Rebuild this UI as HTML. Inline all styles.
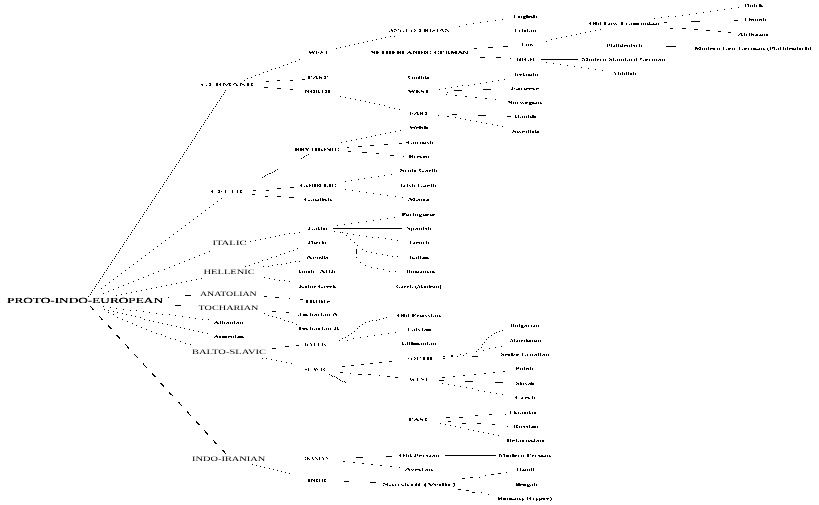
<!DOCTYPE html>
<html><head><meta charset="utf-8"><title>Indo-European Language Tree</title>
<style>
html,body{margin:0;padding:0;background:#fff;width:819px;height:505px;overflow:hidden}
svg{display:block;filter:grayscale(1)}
text{font-family:"Liberation Serif",serif;text-rendering:geometricPrecision}
</style></head><body>
<svg width="819" height="505" viewBox="0 0 819 505">
<defs><filter id="bbig" filterUnits="userSpaceOnUse" x="0" y="0" width="819" height="505" color-interpolation-filters="sRGB"><feComponentTransfer><feFuncA type="table" tableValues="0 0.5 1 1"/></feComponentTransfer></filter><filter id="bmid" filterUnits="userSpaceOnUse" x="0" y="0" width="819" height="505" color-interpolation-filters="sRGB"><feComponentTransfer><feFuncA type="table" tableValues="0 0.25 0.75 1"/></feComponentTransfer></filter><filter id="bscl" filterUnits="userSpaceOnUse" x="0" y="0" width="819" height="505" color-interpolation-filters="sRGB"><feComponentTransfer><feFuncA type="discrete" tableValues="0 0 0 0 0 0 0 0 0 0 0 1 1 1 1 1 1 1 1 1"/></feComponentTransfer></filter><filter id="bscd" filterUnits="userSpaceOnUse" x="0" y="0" width="819" height="505" color-interpolation-filters="sRGB"><feComponentTransfer><feFuncA type="discrete" tableValues="0 0 1 1 1"/></feComponentTransfer></filter><filter id="blang" filterUnits="userSpaceOnUse" x="0" y="0" width="819" height="505" color-interpolation-filters="sRGB"><feComponentTransfer><feFuncA type="discrete" tableValues="0 0 0 0 0 0 0 0 0 1 1 1 1 1 1 1 1 1 1 1"/></feComponentTransfer></filter></defs>
<rect width="819" height="505" fill="#fff"/>
<g shape-rendering="crispEdges">
<path d="M738 7h1v1H738zM731 8h1v1H731zM724 9h1v1H724zM717 10h1v1H717zM710 11h1v1H710zM703 12h1v1H703zM696 13h1v1H696zM689 14h1v1H689zM682 15h1v1H682zM668 16h1v1H668zM675 16h1v1H675zM661 17h1v1H661zM654 18h1v1H654zM502 19h1v1H502zM495 20h1v1H495zM734 20h4v1H734zM487 21h1v1H487zM691 21h9v1H691zM480 22h1v1H480zM664 22h3v1H664zM473 23h1v1H473zM466 24h1v1H466zM459 26h1v1H459zM670 28h3v1H670zM682 28h4v1H682zM600 29h1v1H600zM694 29h4v1H694zM595 30h1v1H595zM706 30h4v1H706zM590 31h1v1H590zM718 31h3v1H718zM585 32h1v1H585zM728 32h3v1H728zM580 33h1v1H580zM576 34h1v1H576zM571 35h1v1H571zM390 36h1v1H390zM394 36h1v1H394zM566 36h1v1H566zM385 37h1v1H385zM561 37h1v1H561zM381 38h1v1H381zM556 38h1v1H556zM376 39h1v1H376zM551 39h1v1H551zM372 40h1v1H372zM367 41h1v1H367zM546 41h1v1H546zM363 42h1v1H363zM358 43h1v1H358zM354 44h1v1H354zM349 45h1v1H349zM345 46h1v1H345zM503 46h5v1H503zM666 46h10v1H666zM340 47h1v1H340zM488 47h5v1H488zM336 48h1v1H336zM474 48h3v1H474zM480 57h5v1H480zM496 57h5v1H496zM510 58h1v1H510zM299 59h1v1H299zM541 59h37v1H541zM295 61h1v1H295zM291 62h1v1H291zM546 62h1v1H546zM553 63h1v1H553zM287 64h1v1H287zM560 64h1v1H560zM283 65h1v1H283zM567 65h1v1H567zM574 66h1v1H574zM279 67h1v1H279zM581 67h1v1H581zM275 68h1v1H275zM588 68h1v1H588zM271 69h1v1H271zM595 69h1v1H595zM602 70h1v1H602zM267 71h1v1H267zM263 72h1v1H263zM259 74h1v1H259zM255 75h1v1H255zM251 77h1v1H251zM247 78h1v1H247zM302 79h3v1H302zM504 79h1v1H504zM244 80h1v1H244zM277 80h3v1H277zM290 80h3v1H290zM498 80h1v1H498zM266 81h3v1H266zM492 81h1v1H492zM486 82h1v1H486zM480 83h1v1H480zM474 84h1v1H474zM462 85h1v1H462zM468 85h1v1H468zM457 86h1v1H457zM264 87h4v1H264zM451 87h1v1H451zM277 88h4v1H277zM445 88h1v1H445zM290 89h3v1H290zM439 89h1v1H439zM483 89h8v1H483zM225 90h1v1H225zM454 90h8v1H454zM224 92h1v1H224zM447 92h1v1H447zM223 94h1v1H223zM446 94h1v1H446zM455 95h2v1H455zM221 96h1v1H221zM340 96h1v1H340zM465 96h2v1H465zM345 97h1v1H345zM475 97h2v1H475zM220 98h1v1H220zM350 98h1v1H350zM485 98h2v1H485zM355 99h1v1H355zM495 99h1v1H495zM219 100h1v1H219zM360 100h1v1H360zM365 101h1v1H365zM217 102h1v1H217zM369 102h1v1H369zM374 103h1v1H374zM216 104h1v1H216zM379 104h1v1H379zM384 105h1v1H384zM215 106h1v1H215zM389 107h1v1H389zM213 108h1v1H213zM394 108h1v1H394zM399 109h1v1H399zM212 110h1v1H212zM211 112h1v1H211zM209 114h1v1H209zM452 114h5v1H452zM438 115h1v1H438zM478 115h8v1H478zM208 116h1v1H208zM447 116h2v1H447zM507 116h4v1H507zM455 117h1v1H455zM207 118h1v1H207zM460 118h1v1H460zM465 119h1v1H465zM205 120h1v1H205zM470 120h1v1H470zM476 121h1v1H476zM204 122h1v1H204zM481 122h1v1H481zM486 123h1v1H486zM203 124h1v1H203zM492 124h1v1H492zM497 125h1v1H497zM201 126h1v1H201zM502 126h1v1H502zM200 128h1v1H200zM199 130h1v1H199zM400 130h1v1H400zM395 131h1v1H395zM197 132h1v1H197zM390 132h1v1H390zM385 133h1v1H385zM196 134h1v1H196zM380 134h1v1H380zM375 135h1v1H375zM195 136h1v1H195zM371 136h1v1H371zM366 137h1v1H366zM194 138h1v1H194zM361 138h1v1H361zM356 139h1v1H356zM192 140h1v1H192zM351 140h1v1H351zM346 141h1v1H346zM191 142h1v1H191zM341 142h1v1H341zM406 142h1v1H406zM399 143h3v1H399zM190 144h1v1H190zM384 144h4v1H384zM370 145h4v1H370zM188 146h1v1H188zM358 146h4v1H358zM347 147h2v1H347zM187 148h1v1H187zM186 150h1v1H186zM348 151h3v1H348zM184 152h1v1H184zM362 152h5v1H362zM376 153h3v1H376zM183 154h1v1H183zM308 154h1v1H308zM306 155h1v1H306zM390 155h4v1H390zM182 156h1v1H182zM304 156h1v1H304zM403 156h1v1H403zM303 157h1v1H303zM180 158h1v1H180zM301 158h1v1H301zM179 160h1v1H179zM178 162h1v1H178zM176 164h1v1H176zM175 166h1v1H175zM174 168h1v1H174zM277 169h1v1H277zM172 170h1v1H172zM275 170h1v1H275zM274 171h1v1H274zM171 172h1v1H171zM272 172h1v1H272zM269 173h2v1H269zM170 174h1v1H170zM267 174h1v1H267zM391 174h1v1H391zM265 175h1v1H265zM384 175h1v1H384zM168 176h1v1H168zM264 176h1v1H264zM378 176h1v1H378zM262 177h1v1H262zM371 177h1v1H371zM167 178h1v1H167zM364 178h1v1H364zM358 179h1v1H358zM166 180h1v1H166zM351 180h1v1H351zM345 181h1v1H345zM164 182h1v1H164zM163 184h1v1H163zM162 186h1v1H162zM290 187h4v1H290zM160 188h1v1H160zM277 188h4v1H277zM345 189h1v1H345zM159 190h1v1H159zM253 190h3v1H253zM266 190h3v1H266zM352 190h1v1H352zM359 191h1v1H359zM158 192h1v1H158zM366 192h1v1H366zM373 193h1v1H373zM156 194h1v1H156zM252 194h3v1H252zM380 194h1v1H380zM387 195h1v1H387zM155 196h1v1H155zM265 196h3v1H265zM277 196h4v1H277zM395 196h1v1H395zM289 197h5v1H289zM402 197h1v1H402zM154 198h1v1H154zM221 198h1v1H221zM152 200h1v1H152zM217 201h1v1H217zM151 202h1v1H151zM150 204h1v1H150zM213 204h1v1H213zM148 206h1v1H148zM209 207h1v1H209zM147 208h1v1H147zM146 210h1v1H146zM205 210h1v1H205zM144 212h1v1H144zM201 213h1v1H201zM143 214h1v1H143zM142 216h1v1H142zM197 216h1v1H197zM394 217h1v1H394zM140 218h1v1H140zM387 218h1v1H387zM193 219h1v1H193zM380 219h1v1H380zM139 220h1v1H139zM373 220h1v1H373zM366 221h1v1H366zM138 222h1v1H138zM189 222h1v1H189zM358 222h1v1H358zM351 223h1v1H351zM136 224h1v1H136zM344 224h1v1H344zM185 225h1v1H185zM337 225h1v1H337zM135 226h1v1H135zM134 228h1v1H134zM181 228h1v1H181zM333 228h69v1H333zM132 230h1v1H132zM177 231h1v1H177zM334 231h1v1H334zM131 232h1v1H131zM299 232h1v1H299zM340 232h1v1H340zM342 232h1v1H342zM289 233h1v1H289zM294 233h1v1H294zM347 233h1v1H347zM130 234h1v1H130zM173 234h1v1H173zM284 234h1v1H284zM353 234h1v1H353zM279 235h1v1H279zM346 235h1v1H346zM359 235h1v1H359zM128 236h1v1H128zM275 236h1v1H275zM366 236h1v1H366zM169 237h1v1H169zM270 237h1v1H270zM372 237h1v1H372zM378 237h1v1H378zM127 238h1v1H127zM265 238h1v1H265zM385 238h1v1H385zM260 239h1v1H260zM350 239h1v1H350zM391 239h1v1H391zM126 240h1v1H126zM165 240h1v1H165zM255 240h1v1H255zM397 240h1v1H397zM245 241h1v1H245zM250 241h1v1H250zM124 242h1v1H124zM354 242h1v1H354zM161 243h1v1H161zM123 244h1v1H123zM357 245h1v1H357zM122 246h1v1H122zM157 246h1v1H157zM120 248h1v1H120zM297 248h1v1H297zM153 249h1v1H153zM356 249h1v1H356zM362 249h1v1H362zM119 250h1v1H119zM293 250h1v1H293zM356 250h1v1H356zM209 251h1v1H209zM289 251h1v1H289zM356 251h1v1H356zM366 251h1v1H366zM118 252h1v1H118zM149 252h1v1H149zM356 252h1v1H356zM371 252h1v1H371zM204 253h1v1H204zM284 253h1v1H284zM356 253h1v1H356zM376 253h1v1H376zM116 254h1v1H116zM280 254h1v1H280zM382 254h1v1H382zM145 255h1v1H145zM199 255h1v1H199zM387 255h1v1H387zM115 256h1v1H115zM276 256h1v1H276zM392 256h1v1H392zM397 256h1v1H397zM194 257h1v1H194zM271 257h1v1H271zM356 257h1v1H356zM114 258h1v1H114zM141 258h1v1H141zM189 259h1v1H189zM267 259h1v1H267zM112 260h1v1H112zM262 260h1v1H262zM137 261h1v1H137zM184 261h1v1H184zM295 261h1v1H295zM299 261h1v1H299zM111 262h1v1H111zM258 262h1v1H258zM290 262h1v1H290zM360 262h1v1H360zM179 263h1v1H179zM254 263h1v1H254zM286 263h1v1H286zM110 264h1v1H110zM133 264h1v1H133zM277 264h1v1H277zM281 264h1v1H281zM174 265h1v1H174zM249 265h1v1H249zM272 265h1v1H272zM365 265h1v1H365zM108 266h1v1H108zM245 266h1v1H245zM263 266h1v1H263zM268 266h1v1H268zM129 267h1v1H129zM169 267h1v1H169zM371 267h1v1H371zM107 268h1v1H107zM377 268h1v1H377zM164 269h1v1H164zM383 269h1v1H383zM106 270h1v1H106zM125 270h1v1H125zM158 271h1v1H158zM389 271h1v1H389zM395 271h1v1H395zM104 272h1v1H104zM121 273h1v1H121zM153 273h1v1H153zM103 274h1v1H103zM148 275h1v1H148zM102 276h1v1H102zM117 276h1v1H117zM143 277h1v1H143zM264 277h1v1H264zM100 278h1v1H100zM201 278h1v1H201zM269 278h1v1H269zM113 279h1v1H113zM138 279h1v1H138zM196 279h1v1H196zM274 279h1v1H274zM99 280h1v1H99zM191 280h1v1H191zM279 280h1v1H279zM284 280h1v1H284zM133 281h1v1H133zM186 281h1v1H186zM289 281h1v1H289zM98 282h1v1H98zM109 282h1v1H109zM181 282h1v1H181zM128 283h1v1H128zM176 283h1v1H176zM96 284h1v1H96zM171 284h1v1H171zM105 285h1v1H105zM123 285h1v1H123zM166 285h1v1H166zM95 286h1v1H95zM161 286h1v1H161zM118 287h1v1H118zM156 287h1v1H156zM94 288h1v1H94zM101 288h1v1H101zM151 288h1v1H151zM113 289h1v1H113zM146 289h1v1H146zM92 290h1v1H92zM141 290h1v1H141zM108 291h1v1H108zM136 291h1v1H136zM91 292h1v1H91zM131 292h1v1H131zM103 293h1v1H103zM126 293h1v1H126zM90 294h1v1H90zM121 294h1v1H121zM116 295h1v1H116zM185 295h6v1H185zM88 296h1v1H88zM264 296h3v1H264zM168 297h1v1H168zM275 297h4v1H275zM289 298h1v1H289zM300 299h3v1H300zM175 305h6v1H175zM90 306h1v1H90zM103 306h1v1H103zM91 307h1v1H91zM110 307h1v1H110zM92 308h1v1H92zM116 308h1v1H116zM92 309h2v1H92zM104 309h1v1H104zM123 309h1v1H123zM108 310h1v1H108zM130 310h1v1H130zM136 310h1v1H136zM113 311h1v1H113zM143 311h1v1H143zM272 311h4v1H272zM108 312h1v1H108zM117 312h1v1H117zM149 312h1v1H149zM286 312h3v1H286zM122 313h1v1H122zM156 313h1v1H156zM264 313h1v1H264zM113 314h1v1H113zM126 314h1v1H126zM162 314h1v1H162zM169 314h1v1H169zM131 315h1v1H131zM175 315h1v1H175zM268 315h1v1H268zM298 315h1v1H298zM99 316h1v1H99zM135 316h1v1H135zM182 316h1v1H182zM272 316h1v1H272zM100 317h1v1H100zM117 317h1v1H117zM140 317h1v1H140zM189 317h1v1H189zM276 317h1v1H276zM386 317h1v1H386zM101 318h1v1H101zM195 318h1v1H195zM280 318h1v1H280zM383 318h1v1H383zM101 319h2v1H101zM122 319h1v1H122zM144 319h1v1H144zM202 319h1v1H202zM208 319h1v1H208zM379 319h1v1H379zM149 320h1v1H149zM284 320h1v1H284zM372 320h1v1H372zM376 320h1v1H376zM127 321h1v1H127zM153 321h1v1H153zM288 321h1v1H288zM369 321h1v1H369zM158 322h1v1H158zM292 322h1v1H292zM365 322h1v1H365zM132 323h1v1H132zM162 323h1v1H162zM167 324h1v1H167zM296 324h1v1H296zM362 324h1v1H362zM108 325h1v1H108zM136 325h1v1H136zM171 325h1v1H171zM108 326h2v1H108zM176 326h1v1H176zM359 326h1v1H359zM109 327h2v1H109zM141 327h1v1H141zM180 327h1v1H180zM110 328h2v1H110zM184 328h1v1H184zM357 328h1v1H357zM146 329h1v1H146zM189 329h1v1H189zM193 330h1v1H193zM502 330h1v1H502zM151 331h1v1H151zM198 331h1v1H198zM354 331h1v1H354zM499 331h1v1H499zM202 332h1v1H202zM395 332h1v1H395zM496 332h1v1H496zM156 333h1v1H156zM207 333h1v1H207zM351 333h1v1H351zM388 333h1v1H388zM494 333h1v1H494zM161 334h1v1H161zM381 334h1v1H381zM116 335h2v1H116zM348 335h1v1H348zM374 335h1v1H374zM491 335h1v1H491zM117 336h2v1H117zM165 336h1v1H165zM367 336h1v1H367zM118 337h2v1H118zM345 337h1v1H345zM360 337h1v1H360zM488 337h1v1H488zM119 338h1v1H119zM170 338h1v1H170zM342 338h1v1H342zM353 338h1v1H353zM175 339h1v1H175zM486 339h1v1H486zM339 340h1v1H339zM347 340h1v1H347zM180 341h1v1H180zM484 342h1v1H484zM185 343h1v1H185zM125 344h1v1H125zM190 344h1v1H190zM482 344h1v1H482zM126 345h1v1H126zM296 345h3v1H296zM127 346h1v1H127zM285 346h4v1H285zM501 346h1v1H501zM127 347h2v1H127zM481 347h1v1H481zM495 347h1v1H495zM128 348h1v1H128zM272 348h4v1H272zM489 348h1v1H489zM478 349h1v1H478zM483 350h1v1H483zM476 351h1v1H476zM466 353h1v1H466zM134 354h1v1H134zM460 354h1v1H460zM135 355h1v1H135zM451 355h2v1H451zM463 355h1v1H463zM136 356h1v1H136zM443 356h2v1H443zM451 356h2v1H451zM457 356h1v1H457zM472 356h6v1H472zM137 357h1v1H137zM262 358h1v1H262zM266 358h1v1H266zM443 358h2v1H443zM271 359h1v1H271zM276 360h1v1H276zM281 361h1v1H281zM389 361h3v1H389zM286 362h1v1H286zM379 362h3v1H379zM143 363h1v1H143zM291 363h1v1H291zM370 363h3v1H370zM143 364h1v1H143zM361 364h3v1H361zM144 365h1v1H144zM351 365h3v1H351zM145 366h1v1H145zM342 366h3v1H342zM146 367h1v1H146zM503 371h2v1H503zM340 372h3v1H340zM493 372h2v1H493zM152 373h1v1H152zM350 373h1v1H350zM484 373h2v1H484zM152 374h2v1H152zM329 374h1v1H329zM358 374h4v1H358zM368 374h3v1H368zM474 374h2v1H474zM153 375h2v1H153zM331 375h1v1H331zM379 375h1v1H379zM463 375h2v1H463zM154 376h2v1H154zM332 376h1v1H332zM334 376h1v1H334zM387 376h3v1H387zM453 376h2v1H453zM336 377h1v1H336zM395 377h3v1H395zM442 377h3v1H442zM337 378h1v1H337zM339 379h1v1H339zM340 380h1v1H340zM439 380h5v1H439zM342 381h1v1H342zM344 381h1v1H344zM465 381h8v1H465zM345 382h1v1H345zM495 382h8v1H495zM160 383h2v1H160zM442 383h1v1H442zM161 384h2v1H161zM448 384h1v1H448zM162 385h2v1H162zM454 385h1v1H454zM163 386h1v1H163zM460 386h1v1H460zM466 387h1v1H466zM472 388h1v1H472zM478 390h1v1H478zM484 391h1v1H484zM169 392h1v1H169zM490 392h1v1H490zM169 393h2v1H169zM496 393h1v1H496zM170 394h2v1H170zM502 394h1v1H502zM172 395h1v1H172zM178 402h2v1H178zM179 403h1v1H179zM180 404h1v1H180zM181 405h1v1H181zM187 411h1v1H187zM187 412h2v1H187zM188 413h1v1H188zM189 414h1v1H189zM489 414h3v1H489zM505 414h1v1H505zM190 415h1v1H190zM475 415h3v1H475zM446 417h4v1H446zM459 417h4v1H459zM196 421h1v1H196zM448 421h3v1H448zM196 422h2v1H196zM197 423h2v1H197zM440 423h1v1H440zM462 423h4v1H462zM477 423h4v1H477zM198 424h2v1H198zM445 424h1v1H445zM492 424h3v1H492zM450 425h1v1H450zM455 426h1v1H455zM507 426h1v1H507zM460 427h1v1H460zM468 429h1v1H468zM204 430h1v1H204zM473 430h1v1H473zM205 431h1v1H205zM478 431h1v1H478zM205 432h2v1H205zM483 432h1v1H483zM206 433h2v1H206zM488 433h1v1H488zM207 434h1v1H207zM493 434h1v1H493zM498 435h1v1H498zM213 440h1v1H213zM214 441h1v1H214zM214 442h2v1H214zM215 443h2v1H215zM222 450h2v1H222zM223 451h2v1H223zM224 452h1v1H224zM225 453h1v1H225zM445 455h51v1H445zM386 456h6v1H386zM356 457h7v1H356zM343 461h2v1H343zM353 462h2v1H353zM362 463h2v1H362zM252 464h1v1H252zM371 464h2v1H371zM256 465h1v1H256zM380 465h2v1H380zM260 466h1v1H260zM390 466h2v1H390zM264 467h1v1H264zM399 467h1v1H399zM269 468h1v1H269zM273 469h1v1H273zM277 470h1v1H277zM281 471h1v1H281zM285 472h1v1H285zM506 472h1v1H506zM289 473h1v1H289zM498 473h3v1H498zM491 474h3v1H491zM485 475h1v1H485zM470 477h3v1H470zM479 477h1v1H479zM462 478h3v1H462zM344 481h5v1H344zM370 482h6v1H370zM458 489h3v1H458zM466 490h3v1H466zM472 492h3v1H472zM481 492h1v1H481zM488 494h1v1H488z" fill="#000"/>
</g>
<g filter="url(#bbig)">
<text x="7.0" y="303.1" font-size="7.8" textLength="156.0" lengthAdjust="spacingAndGlyphs" fill="#000" font-weight="normal">PROTO-INDO-EUROPEAN</text>
</g>
<g filter="url(#bmid)">
<text x="212.4" y="245.2" font-size="6.8" textLength="34.2" lengthAdjust="spacingAndGlyphs" fill="#000" font-weight="normal">ITALIC</text>
<text x="203.5" y="274.2" font-size="6.8" textLength="51.3" lengthAdjust="spacingAndGlyphs" fill="#000" font-weight="normal">HELLENIC</text>
<text x="200.0" y="295.9" font-size="6.8" textLength="56.7" lengthAdjust="spacingAndGlyphs" fill="#000" font-weight="normal">ANATOLIAN</text>
<text x="198.5" y="310.2" font-size="6.8" textLength="60.0" lengthAdjust="spacingAndGlyphs" fill="#000" font-weight="normal">TOCHARIAN</text>
<text x="192.0" y="353.6" font-size="6.8" textLength="74.0" lengthAdjust="spacingAndGlyphs" fill="#000" font-weight="normal">BALTO-SLAVIC</text>
<text x="192.0" y="460.9" font-size="6.8" textLength="73.3" lengthAdjust="spacingAndGlyphs" fill="#000" font-weight="normal">INDO-IRANIAN</text>
</g>
<g filter="url(#bscl)">
<text x="200.7" y="85.9" font-size="4.6" textLength="56.7" lengthAdjust="spacingAndGlyphs" fill="#000" font-weight="bold">GERMANIC</text>
<text x="388.4" y="32.0" font-size="4.6" textLength="61.6" lengthAdjust="spacingAndGlyphs" fill="#000" font-weight="bold">ANGLO-FRISIAN</text>
<text x="210.7" y="193.3" font-size="4.6" textLength="35.3" lengthAdjust="spacingAndGlyphs" fill="#000" font-weight="bold">CELTIC</text>
<text x="304.0" y="345.8" font-size="4.6" textLength="24.4" lengthAdjust="spacingAndGlyphs" fill="#000" font-weight="bold">BALTIC</text>
<text x="304.0" y="370.5" font-size="4.6" textLength="23.7" lengthAdjust="spacingAndGlyphs" fill="#000" font-weight="bold">SLAVIC</text>
<text x="406.0" y="359.5" font-size="4.6" textLength="26.5" lengthAdjust="spacingAndGlyphs" fill="#000" font-weight="bold">SOUTH</text>
<text x="409.0" y="381.1" font-size="4.6" textLength="20.0" lengthAdjust="spacingAndGlyphs" fill="#000" font-weight="bold">WEST</text>
<text x="304.0" y="460.2" font-size="4.6" textLength="25.0" lengthAdjust="spacingAndGlyphs" fill="#000" font-weight="bold">IRANIAN</text>
</g>
<g filter="url(#bscd)">
<text x="308.2" y="53.5" font-size="4.6" textLength="20.5" lengthAdjust="spacingAndGlyphs" fill="#000" font-weight="bold">WEST</text>
<text x="307.5" y="78.9" font-size="4.6" textLength="20.5" lengthAdjust="spacingAndGlyphs" fill="#000" font-weight="bold">EAST</text>
<text x="304.8" y="93.0" font-size="4.6" textLength="25.6" lengthAdjust="spacingAndGlyphs" fill="#000" font-weight="bold">NORTH</text>
<text x="370.1" y="53.5" font-size="4.6" textLength="98.2" lengthAdjust="spacingAndGlyphs" fill="#000" font-weight="bold">NETHERLANDIC-GERMAN</text>
<text x="408.0" y="92.5" font-size="4.6" textLength="21.4" lengthAdjust="spacingAndGlyphs" fill="#000" font-weight="bold">WEST</text>
<text x="409.0" y="115.0" font-size="4.6" textLength="20.0" lengthAdjust="spacingAndGlyphs" fill="#000" font-weight="bold">EAST</text>
<text x="294.8" y="151.2" font-size="4.6" textLength="44.6" lengthAdjust="spacingAndGlyphs" fill="#000" font-weight="bold">BRYTHONIC</text>
<text x="300.0" y="186.5" font-size="4.6" textLength="36.3" lengthAdjust="spacingAndGlyphs" fill="#000" font-weight="bold">GOIDELIC</text>
<text x="408.8" y="420.6" font-size="4.6" textLength="19.5" lengthAdjust="spacingAndGlyphs" fill="#000" font-weight="bold">EAST</text>
<text x="307.5" y="481.7" font-size="4.6" textLength="21.5" lengthAdjust="spacingAndGlyphs" fill="#000" font-weight="bold">INDIC</text>
</g>
<g filter="url(#blang)">
<text x="513.0" y="18.0" font-size="4.8" textLength="24.1" lengthAdjust="spacingAndGlyphs" fill="#000" font-weight="bold">English</text>
<text x="514.0" y="32.1" font-size="4.8" textLength="22.5" lengthAdjust="spacingAndGlyphs" fill="#000" font-weight="bold">Frisian</text>
<text x="521.6" y="46.4" font-size="4.8" textLength="12.4" lengthAdjust="spacingAndGlyphs" fill="#000" font-weight="bold">Low</text>
<text x="515.9" y="61.0" font-size="4.8" textLength="19.1" lengthAdjust="spacingAndGlyphs" fill="#000" font-weight="bold">HIGH</text>
<text x="589.0" y="25.3" font-size="4.8" textLength="70.3" lengthAdjust="spacingAndGlyphs" fill="#000" font-weight="bold">Old Low Franconian</text>
<text x="606.2" y="46.8" font-size="4.8" textLength="36.1" lengthAdjust="spacingAndGlyphs" fill="#000" font-weight="bold">Plattdeutsch</text>
<text x="581.8" y="60.8" font-size="4.8" textLength="83.4" lengthAdjust="spacingAndGlyphs" fill="#000" font-weight="bold">Modern Standard German</text>
<text x="613.0" y="75.1" font-size="4.8" textLength="23.4" lengthAdjust="spacingAndGlyphs" fill="#000" font-weight="bold">Yiddish</text>
<text x="744.5" y="7.0" font-size="4.8" textLength="18.3" lengthAdjust="spacingAndGlyphs" fill="#000" font-weight="bold">Dutch</text>
<text x="744.5" y="20.8" font-size="4.8" textLength="21.5" lengthAdjust="spacingAndGlyphs" fill="#000" font-weight="bold">Flemish</text>
<text x="738.0" y="35.9" font-size="4.8" textLength="30.5" lengthAdjust="spacingAndGlyphs" fill="#000" font-weight="bold">Afrikaans</text>
<text x="694.6" y="49.6" font-size="4.8" textLength="117.0" lengthAdjust="spacingAndGlyphs" fill="#000" font-weight="bold">Modern Low German (Plattdeutsch)</text>
<text x="407.6" y="78.6" font-size="4.8" textLength="22.9" lengthAdjust="spacingAndGlyphs" fill="#000" font-weight="bold">Gothic</text>
<text x="514.0" y="75.6" font-size="4.8" textLength="25.0" lengthAdjust="spacingAndGlyphs" fill="#000" font-weight="bold">Icelandic</text>
<text x="510.7" y="90.2" font-size="4.8" textLength="28.3" lengthAdjust="spacingAndGlyphs" fill="#000" font-weight="bold">Faroese</text>
<text x="507.0" y="104.1" font-size="4.8" textLength="35.0" lengthAdjust="spacingAndGlyphs" fill="#000" font-weight="bold">Norwegian</text>
<text x="514.5" y="118.0" font-size="4.8" textLength="21.5" lengthAdjust="spacingAndGlyphs" fill="#000" font-weight="bold">Danish</text>
<text x="512.0" y="133.2" font-size="4.8" textLength="27.0" lengthAdjust="spacingAndGlyphs" fill="#000" font-weight="bold">Swedish</text>
<text x="409.0" y="129.3" font-size="4.8" textLength="19.0" lengthAdjust="spacingAndGlyphs" fill="#000" font-weight="bold">Welsh</text>
<text x="407.0" y="143.9" font-size="4.8" textLength="26.5" lengthAdjust="spacingAndGlyphs" fill="#000" font-weight="bold">Cornish</text>
<text x="408.8" y="157.9" font-size="4.8" textLength="21.0" lengthAdjust="spacingAndGlyphs" fill="#000" font-weight="bold">Breton</text>
<text x="400.0" y="172.0" font-size="4.8" textLength="39.0" lengthAdjust="spacingAndGlyphs" fill="#000" font-weight="bold">Scots Gaelic</text>
<text x="400.0" y="187.0" font-size="4.8" textLength="37.7" lengthAdjust="spacingAndGlyphs" fill="#000" font-weight="bold">Irish Gaelic</text>
<text x="407.8" y="200.9" font-size="4.8" textLength="22.0" lengthAdjust="spacingAndGlyphs" fill="#000" font-weight="bold">Manx</text>
<text x="304.0" y="200.6" font-size="4.8" textLength="28.0" lengthAdjust="spacingAndGlyphs" fill="#000" font-weight="bold">Gaulish</text>
<text x="307.8" y="230.1" font-size="4.8" textLength="19.6" lengthAdjust="spacingAndGlyphs" fill="#000" font-weight="bold">Latin</text>
<text x="307.8" y="244.3" font-size="4.8" textLength="20.1" lengthAdjust="spacingAndGlyphs" fill="#000" font-weight="bold">Doric</text>
<text x="306.0" y="258.6" font-size="4.8" textLength="24.0" lengthAdjust="spacingAndGlyphs" fill="#000" font-weight="bold">Aeolic</text>
<text x="298.0" y="273.2" font-size="4.8" textLength="39.0" lengthAdjust="spacingAndGlyphs" fill="#000" font-weight="bold">Ionic-Attic</text>
<text x="299.0" y="287.8" font-size="4.8" textLength="37.0" lengthAdjust="spacingAndGlyphs" fill="#000" font-weight="bold">Koine Greek</text>
<text x="305.5" y="302.5" font-size="4.8" textLength="24.8" lengthAdjust="spacingAndGlyphs" fill="#000" font-weight="bold">Hittite</text>
<text x="298.0" y="316.3" font-size="4.8" textLength="39.6" lengthAdjust="spacingAndGlyphs" fill="#000" font-weight="bold">Tocharian A</text>
<text x="297.4" y="330.4" font-size="4.8" textLength="41.6" lengthAdjust="spacingAndGlyphs" fill="#000" font-weight="bold">Tocharian B</text>
<text x="213.8" y="323.8" font-size="4.8" textLength="29.7" lengthAdjust="spacingAndGlyphs" fill="#000" font-weight="bold">Albanian</text>
<text x="213.8" y="338.3" font-size="4.8" textLength="30.2" lengthAdjust="spacingAndGlyphs" fill="#000" font-weight="bold">Armenian</text>
<text x="401.7" y="216.0" font-size="4.8" textLength="33.3" lengthAdjust="spacingAndGlyphs" fill="#000" font-weight="bold">Portuguese</text>
<text x="406.3" y="229.9" font-size="4.8" textLength="25.2" lengthAdjust="spacingAndGlyphs" fill="#000" font-weight="bold">Spanish</text>
<text x="408.9" y="244.0" font-size="4.8" textLength="20.5" lengthAdjust="spacingAndGlyphs" fill="#000" font-weight="bold">French</text>
<text x="408.9" y="259.0" font-size="4.8" textLength="20.1" lengthAdjust="spacingAndGlyphs" fill="#000" font-weight="bold">Italian</text>
<text x="406.3" y="273.0" font-size="4.8" textLength="28.6" lengthAdjust="spacingAndGlyphs" fill="#000" font-weight="bold">Romanian</text>
<text x="396.0" y="287.6" font-size="4.8" textLength="45.7" lengthAdjust="spacingAndGlyphs" fill="#000" font-weight="bold">Greek (Modern)</text>
<text x="397.0" y="316.5" font-size="4.8" textLength="43.8" lengthAdjust="spacingAndGlyphs" fill="#000" font-weight="bold">Old Prussian</text>
<text x="407.0" y="331.3" font-size="4.8" textLength="24.0" lengthAdjust="spacingAndGlyphs" fill="#000" font-weight="bold">Latvian</text>
<text x="401.6" y="345.2" font-size="4.8" textLength="34.8" lengthAdjust="spacingAndGlyphs" fill="#000" font-weight="bold">Lithuanian</text>
<text x="509.9" y="327.2" font-size="4.8" textLength="29.6" lengthAdjust="spacingAndGlyphs" fill="#000" font-weight="bold">Bulgarian</text>
<text x="510.0" y="341.6" font-size="4.8" textLength="31.0" lengthAdjust="spacingAndGlyphs" fill="#000" font-weight="bold">Macedonian</text>
<text x="500.5" y="356.2" font-size="4.8" textLength="48.8" lengthAdjust="spacingAndGlyphs" fill="#000" font-weight="bold">Serbo-Croatian</text>
<text x="515.5" y="370.1" font-size="4.8" textLength="18.2" lengthAdjust="spacingAndGlyphs" fill="#000" font-weight="bold">Polish</text>
<text x="515.5" y="384.6" font-size="4.8" textLength="19.3" lengthAdjust="spacingAndGlyphs" fill="#000" font-weight="bold">Slovak</text>
<text x="515.0" y="398.6" font-size="4.8" textLength="20.8" lengthAdjust="spacingAndGlyphs" fill="#000" font-weight="bold">Czech</text>
<text x="509.4" y="413.7" font-size="4.8" textLength="27.3" lengthAdjust="spacingAndGlyphs" fill="#000" font-weight="bold">Ukrainian</text>
<text x="512.9" y="428.0" font-size="4.8" textLength="25.4" lengthAdjust="spacingAndGlyphs" fill="#000" font-weight="bold">Russian</text>
<text x="506.4" y="442.2" font-size="4.8" textLength="37.6" lengthAdjust="spacingAndGlyphs" fill="#000" font-weight="bold">Belarusian</text>
<text x="399.0" y="457.0" font-size="4.8" textLength="40.6" lengthAdjust="spacingAndGlyphs" fill="#000" font-weight="bold">Old Persian</text>
<text x="498.8" y="457.0" font-size="4.8" textLength="52.2" lengthAdjust="spacingAndGlyphs" fill="#000" font-weight="bold">Modern Persian</text>
<text x="404.8" y="471.0" font-size="4.8" textLength="28.2" lengthAdjust="spacingAndGlyphs" fill="#000" font-weight="bold">Avestan</text>
<text x="382.8" y="485.6" font-size="4.8" textLength="73.0" lengthAdjust="spacingAndGlyphs" fill="#000" font-weight="bold">Sanskrit (Vedic)</text>
<text x="516.0" y="471.0" font-size="4.8" textLength="18.7" lengthAdjust="spacingAndGlyphs" fill="#000" font-weight="bold">Hindi</text>
<text x="515.7" y="485.6" font-size="4.8" textLength="21.3" lengthAdjust="spacingAndGlyphs" fill="#000" font-weight="bold">Bengali</text>
<text x="497.6" y="500.4" font-size="4.8" textLength="54.4" lengthAdjust="spacingAndGlyphs" fill="#000" font-weight="bold">Romany (Gypsy)</text>
</g>

</svg>
</body></html>
